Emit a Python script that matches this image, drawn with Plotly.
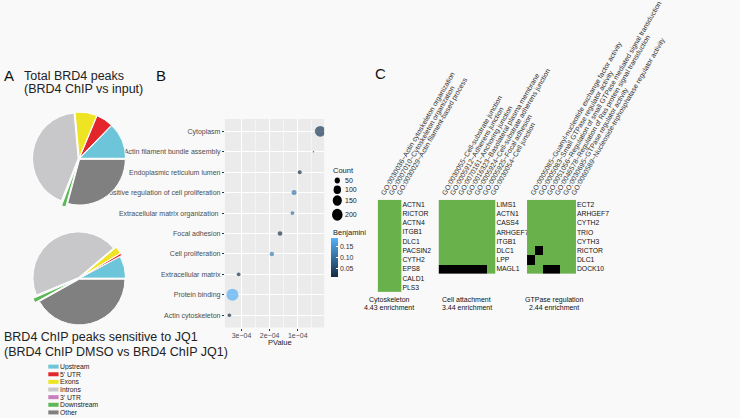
import plotly.graph_objects as go
import numpy as np

W, H = 740, 418
BG = "#f9f9f9"
FONT = "Liberation Sans, Arial, Helvetica, sans-serif"
GREEN = "#69b24b"


def px(x):
    return x / W


def py(y):
    return 1 - y / H


# ---------------- Panel A data ----------------
pie_labels = ["Upstream", "5' UTR", "Exons", "Introns", "3' UTR", "Downstream", "Other"]
pie_colors = ["#6cc5d8", "#e3262b", "#efe424", "#c8c8ca", "#c77fc0", "#5db85a", "#808080"]
total_peaks = [12.7, 6.0, 7.7, 42.5, 0.3, 1.5, 29.2]
jq1_peaks = [7.8, 0.8, 2.5, 44.9, 0.2, 1.6, 41.7]

# ---------------- Panel B data ----------------
go_terms = ["Cytoplasm", "Actin filament bundle assembly", "Endoplasmic reticulum lumen",
            "Positive regulation of cell proliferation", "Extracellular matrix organization ",
            "Focal adhesion", "Cell proliferation", "Extracellular matrix", "Protein binding",
            "Actin cytoskeleton"]
pvalues = [2.0e-5, 4.4e-5, 9.3e-5, 1.13e-4, 1.19e-4, 1.63e-4, 1.92e-4, 3.10e-4, 3.32e-4, 3.43e-4]
counts = [160, 3, 22, 35, 20, 30, 28, 20, 200, 18]
benjamini = [0.03, 0.02, 0.02, 0.11, 0.10, 0.02, 0.12, 0.02, 0.185, 0.008]
count_breaks = [50, 100, 150, 200]
benj_ticks = [0.05, 0.10, 0.15]
benj_ticktext = ["0.05", "0.10", "0.15"]
pval_ticks = [3e-4, 2e-4, 1e-4]
pval_ticktext = ["3e\u221204", "2e\u221204", "1e\u221204"]
pval_minor = [2.5e-4, 1.5e-4, 0.5e-4]

# ---------------- Panel C data ----------------
cyto_terms = ["GO:0030036~Actin cytoskeleton organization",
              "GO:0007010~Cytoskeleton organization",
              "GO:0030029~Actin filament-based process"]
cyto_genes = ["ACTN1", "RICTOR", "ACTN4", "ITGB1", "DLC1", "PACSIN2", "CYTH2", "EPS8", "CALD1", "PLS3"]
cyto_matrix = [[1, 1, 1] for _ in cyto_genes]

attach_terms = ["GO:0030055~Cell-substrate junction",
                "GO:0005912~Adherens junction",
                "GO:0070161~Anchoring junction",
                "GO:0016323~Basolateral plasma membrane",
                "GO:0005924~Cell-substrate adherens junction",
                "GO:0005925~Focal adhesion",
                "GO:0030054~Cell junction"]
attach_genes = ["LIMS1", "ACTN1", "CASS4", "ARHGEF7", "ITGB1", "DLC1", "LPP", "MAGL1"]
attach_matrix = [
    [1, 1, 1, 1, 1, 1, 1],
    [1, 1, 1, 1, 1, 1, 1],
    [1, 1, 1, 1, 1, 1, 1],
    [1, 1, 1, 1, 1, 1, 1],
    [1, 1, 1, 1, 1, 1, 1],
    [1, 1, 1, 1, 1, 1, 1],
    [1, 1, 1, 1, 1, 1, 1],
    [0, 0, 0, 0, 0, 0, 1],
]

gtp_terms = ["GO:0005085~Guanyl-nucleotide exchange factor activity",
             "GO:0005083~Small GTPase regulator activity",
             "GO:0051056~Regulation of small GTPase mediated signal transduction",
             "GO:0046578~Regulation of Ras protein signal transduction",
             "GO:0030695~GTPase regulator activity",
             "GO:0060589~Nucleoside-triphosphatase regulator activity"]
gtp_genes = ["ECT2", "ARHGEF7", "CYTH2", "TRIO", "CYTH3", "RICTOR", "DLC1", "DOCK10"]
gtp_matrix = [
    [1, 1, 1, 1, 1, 1],
    [1, 1, 1, 1, 1, 1],
    [1, 1, 1, 1, 1, 1],
    [1, 1, 1, 1, 1, 1],
    [1, 1, 1, 1, 1, 1],
    [1, 0, 1, 1, 1, 1],
    [0, 1, 1, 1, 1, 1],
    [1, 1, 0, 0, 1, 1],
]

cluster_names = ["Cytoskeleton", "Cell attachment", "GTPase regulation"]
cluster_enrich = ["4.43 enrichment", "3.44 enrichment", "2.44 enrichment"]

# ---------------- figure ----------------
fig = go.Figure()

# Pies (first slice starts at 3 o'clock and runs counter-clockwise)
R = 52
pie_specs = [
    (total_peaks, 90, 158, [0.02, 0.02, 0.02, 0.02, 0.05, 0.10, 0.02]),
    (jq1_peaks, 90, 278, [0.02, 0.06, 0.06, 0.02, 0.05, 0.10, 0.02]),
]
for vals, cx, cy, pulls in pie_specs:
    side = 2 * R * (1 + max(pulls))
    rot = 90 - 360.0 * vals[0] / sum(vals)
    fig.add_trace(go.Pie(
        values=vals, labels=pie_labels, sort=False, direction="counterclockwise",
        rotation=rot, pull=pulls, textinfo="none", showlegend=False, hoverinfo="skip",
        marker=dict(colors=pie_colors, line=dict(color="white", width=1)),
        domain=dict(x=[px(cx - side / 2), px(cx + side / 2)],
                    y=[py(cy + side / 2), py(cy - side / 2)]),
    ))


def dot_size(c):
    return 0.85 * np.sqrt(c)


# Dot plot
fig.add_trace(go.Scatter(
    x=pvalues, y=go_terms, mode="markers", xaxis="x", yaxis="y", showlegend=False,
    marker=dict(size=[dot_size(c) for c in counts], sizemode="diameter",
                color=benjamini, cmin=min(benjamini), cmax=max(benjamini),
                colorscale=[[0, "#132B43"], [1, "#56B1F7"]], line=dict(width=0),
                showscale=True,
                colorbar=dict(thickness=7, len=39, lenmode="pixels", x=px(377), xanchor="left",
                              y=py(257.5), yanchor="middle", xpad=0, ypad=0, outlinewidth=0,
                              tickvals=benj_ticks, ticktext=benj_ticktext,
                              tickfont=dict(size=7, color="#333", family=FONT),
                              ticks="inside", ticklen=2, tickcolor="white")),
))

# Heatmaps
heat_specs = [
    (cyto_terms, cyto_genes, cyto_matrix, "x2", "y2"),
    (attach_terms, attach_genes, attach_matrix, "x3", "y3"),
    (gtp_terms, gtp_genes, gtp_matrix, "x4", "y4"),
]
for terms, genes, mat, xa, ya in heat_specs:
    fig.add_trace(go.Heatmap(z=mat, x=terms, y=genes, zmin=0, zmax=1,
                             colorscale=[[0, "#000000"], [1, GREEN]], showscale=False,
                             xaxis=xa, yaxis=ya))

layout = dict(
    width=W, height=H, margin=dict(l=0, r=0, t=0, b=0),
    paper_bgcolor=BG, plot_bgcolor="#ebebeb",
    font=dict(family=FONT, color="#222"),
    showlegend=False, hovermode=False,
    xaxis=dict(domain=[px(256), px(369)], anchor="y", range=[3.59e-4, 0.0625e-4],
               tickmode="array", tickvals=pval_ticks, ticktext=pval_ticktext,
               ticks="outside", ticklen=2, tickcolor="#333",
               tickfont=dict(size=7, color="#4d4d4d"), ticklabelstandoff=-1,
               showgrid=True, gridcolor="white", gridwidth=1, zeroline=False, showline=False,
               minor=dict(tickvals=pval_minor, showgrid=True, gridcolor="white", gridwidth=0.5, ticks="")),
    yaxis=dict(domain=[py(327.3), py(118.3)], anchor="x", type="category",
               categoryorder="array", categoryarray=go_terms,
               range=[len(go_terms) - 0.4, -0.6],
               tickmode="array", tickvals=go_terms, ticktext=go_terms,
               ticks="outside", ticklen=2, tickcolor="#333",
               tickfont=dict(size=7, color="#4d4d4d"),
               showgrid=True, gridcolor="white", gridwidth=1, zeroline=False),
)

heat_dom = [
    ([430, 457], [199.3, 291.7]),
    ([499.3, 564], [199.3, 273.3]),
    ([600, 655.7], [199.3, 273.3]),
]
for (terms, genes, mat, xa, ya), (xd, yd) in zip(heat_specs, heat_dom):
    xk = "xaxis" + xa[1:]
    yk = "yaxis" + ya[1:]
    layout[xk] = dict(domain=[px(xd[0]), px(xd[1])], anchor=ya, side="top", type="category",
                      tickmode="array", tickvals=terms, ticktext=terms, tickangle=-60,
                      tickfont=dict(size=7, color="#333"), ticks="", showgrid=False,
                      zeroline=False, showline=False)
    layout[yk] = dict(domain=[py(yd[1]), py(yd[0])], anchor=xa, side="right", type="category",
                      autorange="reversed", tickmode="array", tickvals=genes, ticktext=genes,
                      tickfont=dict(size=6.8, color="#111"), ticks="", showgrid=False,
                      zeroline=False, showline=False)

fig.update_layout(**layout)

ann = []


def add_text(text, x, y, size, xanchor="left", color="#222", yanchor="middle", height=None):
    d = dict(text=text, x=px(x), y=py(y), xref="paper", yref="paper",
             xanchor=xanchor, yanchor=yanchor, showarrow=False,
             font=dict(size=size, color=color, family=FONT))
    if height is not None:
        d["height"] = height
    ann.append(d)


# panel letters and titles
add_text("A", 2, 75, 15, color="#111")
add_text("B", 175, 75, 15, color="#111")
add_text("C", 425, 73, 15, color="#111")
add_text("Total BRD4 peaks", 25, 75, 12.5)
add_text("(BRD4 ChIP vs input)", 25, 88.5, 12.5)
add_text("BRD4 ChIP peaks sensitive to JQ1", 2, 336.5, 12.5)
add_text("(BRD4 ChIP DMSO vs BRD4 ChIP JQ1)", 2, 351.5, 12.5)

# pie legend
shapes = []
for i, (lab, col) in enumerate(zip(pie_labels, pie_colors)):
    yc = 366.5 + i * 7.65
    shapes.append(dict(type="rect", xref="paper", yref="paper",
                       x0=px(55), x1=px(66.7), y0=py(yc + 2), y1=py(yc - 2),
                       fillcolor=col, line=dict(width=0)))
    add_text(lab, 66.5, yc, 6.8, height=7)

# dot plot annotations
add_text("PValue", 319.3, 342.8, 7.5, xanchor="center")
add_text("Count", 376.5, 170, 7.5)
add_text("Benjamini", 376.5, 231.7, 7.5)
key_y = [180, 189.3, 200, 214.3]
for c, yc in zip(count_breaks, key_y):
    d = dot_size(c)
    shapes.append(dict(type="circle", xref="paper", yref="paper",
                       x0=px(384 - d / 2), x1=px(384 + d / 2), y0=py(yc + d / 2), y1=py(yc - d / 2),
                       fillcolor="black", line=dict(width=0)))
    add_text(str(c), 390.5, yc, 7)

# heatmap captions
cap_x = [443.3, 531.5, 630.8]
for name, enr, cx in zip(cluster_names, cluster_enrich, cap_x):
    add_text(name, cx, 299.3, 7, xanchor="center", color="#111")
    add_text(enr, cx, 307.3, 7, xanchor="center", color="#111")

fig.update_layout(annotations=ann, shapes=shapes)
fig.write_html("out.html", config={"displayModeBar": False, "staticPlot": True},
               post_script="document.body.style.margin='0px';document.body.style.background='%s';" % BG)
